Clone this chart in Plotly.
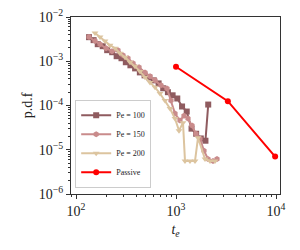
import plotly.graph_objects as go

# ---- data ----
pe100_x = [135, 150, 165, 185, 205, 230, 255, 285, 315, 350, 390, 435, 485, 540, 600,
           670, 745, 830, 925, 1030, 1150, 1280, 1430, 1590, 1770, 1970, 2100]
pe100_y = [3.5e-3, 3.0e-3, 2.43e-3, 2.19e-3, 1.78e-3, 1.6e-3, 1.3e-3, 1.17e-3, 9.5e-4,
           8.1e-4, 6.9e-4, 5.6e-4, 4.8e-4, 4.3e-4, 3.7e-4, 3.16e-4, 2.45e-4, 2.0e-4,
           1.7e-4, 1.44e-4, 9.5e-5, 7.3e-5, 3.0e-5, 2.3e-5, 1.8e-5, 1.6e-5, 1.05e-4]

pe150_x = [135, 155, 174, 200, 229, 263, 295, 331, 372, 427, 490, 550, 617, 708, 813,
           891, 977, 1096, 1202, 1318, 1445, 1585, 1738, 1905, 2089, 2344, 2570]
pe150_y = [3.51e-3, 2.85e-3, 2.43e-3, 1.97e-3, 1.69e-3, 1.78e-3, 1.37e-3, 1.17e-3, 9.0e-4,
           7.3e-4, 5.6e-4, 4.56e-4, 3.7e-4, 2.85e-4, 2.43e-4, 1.3e-4, 6.6e-5, 4.56e-5,
           5.9e-5, 5.07e-5, 3.51e-5, 2.31e-5, 1.78e-5, 9.5e-6, 6.2e-6, 5.6e-6, 6.2e-6]

pe200_x = [155, 174, 195, 219, 246, 275, 309, 347, 389, 437, 490, 550, 617, 692, 776,
           871, 977, 1072, 1175, 1230, 1380, 1549, 1660, 1950, 2188, 2455]
pe200_y = [4.33e-3, 3.51e-3, 2.85e-3, 2.31e-3, 1.97e-3, 1.52e-3, 1.23e-3, 9.5e-4, 7.7e-4,
           5.9e-4, 4.33e-4, 3.33e-4, 2.57e-4, 1.87e-4, 1.3e-4, 8.55e-5, 5.07e-5, 2.7e-5,
           4.1e-5, 5.6e-6, 5.6e-6, 5.6e-6, 1.87e-5, 6.2e-6, 5.6e-6, 5.6e-6]

passive_x = [1000, 3300, 9800]
passive_y = [7.5e-4, 1.25e-4, 7.0e-6]

x_tickvals = [1e2, 1e3, 1e4]
x_ticktext = ["10<sup>2</sup>", "10<sup>3</sup>", "10<sup>4</sup>"]
y_tickvals = [1e-6, 1e-5, 1e-4, 1e-3, 1e-2]
y_ticktext = ["10<sup>−6</sup>", "10<sup>−5</sup>", "10<sup>−4</sup>",
              "10<sup>−3</sup>", "10<sup>−2</sup>"]

x_minor = [m * 10 ** e for e in range(1, 5) for m in range(2, 10)]
y_minor = [m * 10.0 ** e for e in range(-7, -1) for m in range(2, 10)]

FONT = "Liberation Serif"

fig = go.Figure()
series = [
    ("Pe = 100", pe100_x, pe100_y, "#8f5b5f", "square", 6),
    ("Pe = 150", pe150_x, pe150_y, "#c98b8b", "hexagon", 6),
    ("Pe = 200", pe200_x, pe200_y, "#dcc49f", "triangle-down", 6),
]
for name, xs, ys, col, sym, ms in series:
    fig.add_trace(go.Scatter(
        x=xs, y=ys, name=name, mode="lines+markers",
        line=dict(color=col, width=2),
        marker=dict(color=col, symbol=sym, size=ms),
    ))
fig.add_trace(go.Scatter(
    x=passive_x, y=passive_y, name="Passive", mode="lines+markers",
    line=dict(color="#ff0000", width=2),
    marker=dict(color="#ff0000", symbol="circle", size=6),
))

axis_common = dict(
    type="log", showgrid=False, zeroline=False, automargin=False,
    showline=True, linecolor="#333333", linewidth=1, mirror=True,
    ticks="outside", ticklen=4, tickcolor="#333333", tickwidth=1,
    tickfont=dict(family=FONT, size=14, color="#222222"),
    ticklabeloverflow="allow",
)

# page body has an 8px default margin, so the figure is sized to compensate
fig.update_layout(
    width=292, height=242,
    margin=dict(l=63, r=20, t=9, b=56),
    paper_bgcolor="white", plot_bgcolor="white",
    font=dict(family=FONT, color="#222222"),
    xaxis=dict(
        **axis_common,
        range=[1.95, 4.04],
        tickvals=x_tickvals, ticktext=x_ticktext,
        minor=dict(tickvals=x_minor, ticks="outside", ticklen=2,
                   tickcolor="#333333", tickwidth=1),
        title=dict(text="<i>t</i><sub><i>e</i></sub>", font=dict(family=FONT, size=14),
                   standoff=6),
    ),
    yaxis=dict(
        **axis_common,
        range=[-6, -2],
        tickvals=y_tickvals, ticktext=y_ticktext,
        minor=dict(tickvals=y_minor, ticks="outside", ticklen=2,
                   tickcolor="#333333", tickwidth=1),
        title=dict(text="p.d.f", font=dict(family=FONT, size=14), standoff=2),
    ),
    legend=dict(
        x=0.02, y=0.035, xanchor="left", yanchor="bottom",
        bgcolor="rgba(255,255,255,0.8)", bordercolor="#cccccc", borderwidth=1,
        font=dict(family=FONT, size=8, color="#222222"),
        itemwidth=30, tracegroupgap=0,
    ),
    showlegend=True,
)

fig.write_html("out.html")
